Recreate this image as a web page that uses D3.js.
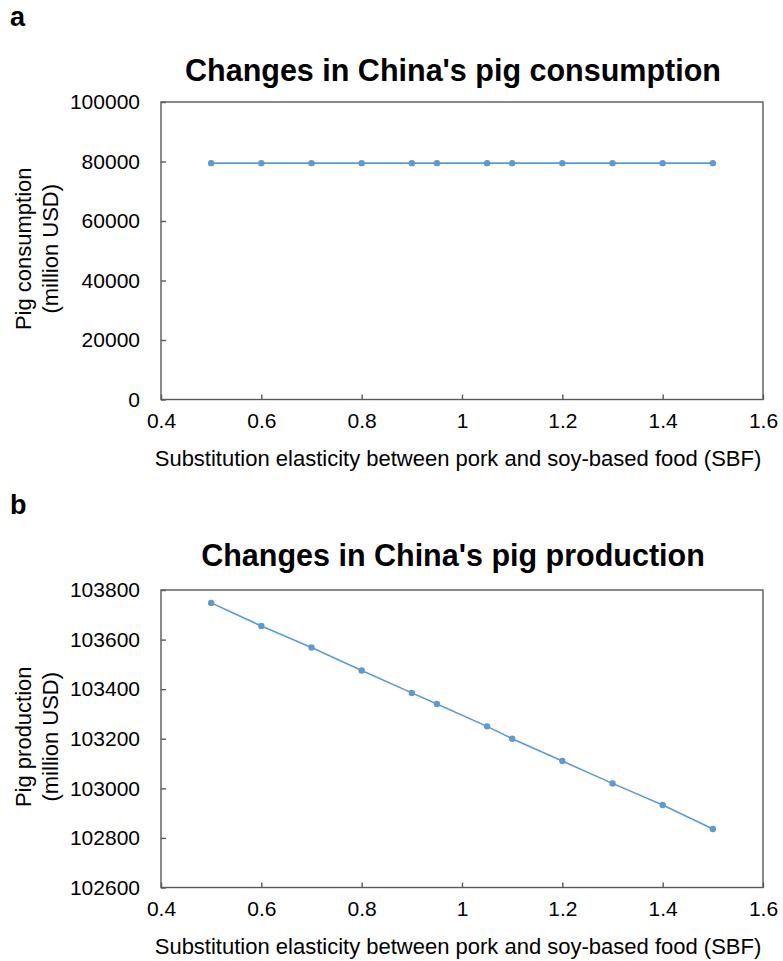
<!DOCTYPE html>
<html>
<head>
<meta charset="utf-8">
<script src="https://cdn.jsdelivr.net/npm/d3@7"></script>
<style>
  body { margin: 0; background: #fff; }
  text { font-family: "Liberation Sans", Arial, sans-serif; fill: #000; }
</style>
</head>
<body>
<svg id="svg" width="783" height="961"></svg>
<script>
// data
const sbf = [0.5, 0.6, 0.7, 0.8, 0.9, 0.95, 1.05, 1.1, 1.2, 1.3, 1.4, 1.5];
const consumption = [79450, 79450, 79450, 79450, 79450, 79450, 79450, 79450, 79450, 79450, 79450, 79450];
const production = [103748, 103655, 103568, 103475, 103385, 103340, 103250, 103200, 103110, 103020, 102933, 102836];

const xTicks = [0.4, 0.6, 0.8, 1, 1.2, 1.4, 1.6];
const consTicks = [0, 20000, 40000, 60000, 80000, 100000];
const prodTicks = [102600, 102800, 103000, 103200, 103400, 103600, 103800];

const svg = d3.select("#svg");
const axisColor = "#595959";
const lineColor = "#5B9BD5";

function drawPanel(opts) {
  const { top, letter, title, titleY, yLabel, values, yDomain, yTicks } = opts;
  const left = 161, right = 763, height = 297.5;

  const x = d3.scaleLinear().domain([0.4, 1.6]).range([left, right]);
  const y = d3.scaleLinear().domain(yDomain).range([top + height, top]);

  const g = svg.append("g");

  // panel letter
  g.append("text")
    .attr("x", 10)
    .attr("y", top - 76)
    .attr("font-size", 27)
    .attr("font-weight", "bold")
    .text(letter);

  // title
  g.append("text")
    .attr("x", 453)
    .attr("y", titleY)
    .attr("text-anchor", "middle")
    .attr("font-size", 30.5)
    .attr("font-weight", "bold")
    .text(title);

  // frame
  g.append("rect")
    .attr("x", left)
    .attr("y", top)
    .attr("width", right - left)
    .attr("height", height)
    .attr("fill", "none")
    .attr("stroke", axisColor)
    .attr("stroke-width", 1.4);

  // x axis, ticks inward
  const xAxis = g.append("g")
    .attr("transform", `translate(0, ${top + height})`)
    .call(d3.axisBottom(x).tickValues(xTicks).tickSizeInner(-5).tickSizeOuter(0)
      .tickPadding(14).tickFormat(d => d3.format("")(d)));
  xAxis.select(".domain").remove();
  xAxis.selectAll(".tick line").attr("stroke", axisColor).attr("stroke-width", 1.4);
  xAxis.selectAll(".tick text")
    .attr("font-size", 21)
    .attr("font-family", "Liberation Sans, Arial, sans-serif")
    .attr("fill", "#000");

  // y axis, ticks inward
  const yAxis = g.append("g")
    .attr("transform", `translate(${left}, 0)`)
    .call(d3.axisLeft(y).tickValues(yTicks).tickSizeInner(-5).tickSizeOuter(0)
      .tickPadding(21).tickFormat(d3.format("d")));
  yAxis.select(".domain").remove();
  yAxis.selectAll(".tick line").attr("stroke", axisColor).attr("stroke-width", 1.4);
  yAxis.selectAll(".tick text")
    .attr("font-size", 21)
    .attr("font-family", "Liberation Sans, Arial, sans-serif")
    .attr("fill", "#000");

  // x axis label
  g.append("text")
    .attr("x", 458)
    .attr("y", top + height + 66.5)
    .attr("text-anchor", "middle")
    .attr("font-size", 22)
    .text("Substitution elasticity between pork and soy-based food (SBF)");

  // y axis label (two lines)
  const yl = g.append("text")
    .attr("transform", `translate(31, ${top + height / 2 - 2}) rotate(-90)`)
    .attr("text-anchor", "middle")
    .attr("font-size", 22);
  yl.append("tspan").attr("x", 0).attr("dy", 0).text(yLabel[0]);
  yl.append("tspan").attr("x", 0).attr("dy", 27).text(yLabel[1]);

  // series
  const pts = sbf.map((s, i) => ({ s, v: values[i] }));
  g.append("path")
    .datum(pts)
    .attr("fill", "none")
    .attr("stroke", lineColor)
    .attr("stroke-width", 1.6)
    .attr("d", d3.line().x(d => x(d.s)).y(d => y(d.v)));

  g.selectAll(".dot")
    .data(pts)
    .enter()
    .append("circle")
    .attr("class", "dot")
    .attr("cx", d => x(d.s))
    .attr("cy", d => y(d.v))
    .attr("r", 3.2)
    .attr("fill", lineColor);
}

drawPanel({
  top: 102,
  letter: "a",
  title: "Changes in China's pig consumption",
  titleY: 80.5,
  yLabel: ["Pig consumption", "(million USD)"],
  values: consumption,
  yDomain: [0, 100000],
  yTicks: consTicks
});

drawPanel({
  top: 590,
  letter: "b",
  title: "Changes in China's pig production",
  titleY: 566,
  yLabel: ["Pig production", "(million USD)"],
  values: production,
  yDomain: [102600, 103800],
  yTicks: prodTicks
});
</script>
</body>
</html>
